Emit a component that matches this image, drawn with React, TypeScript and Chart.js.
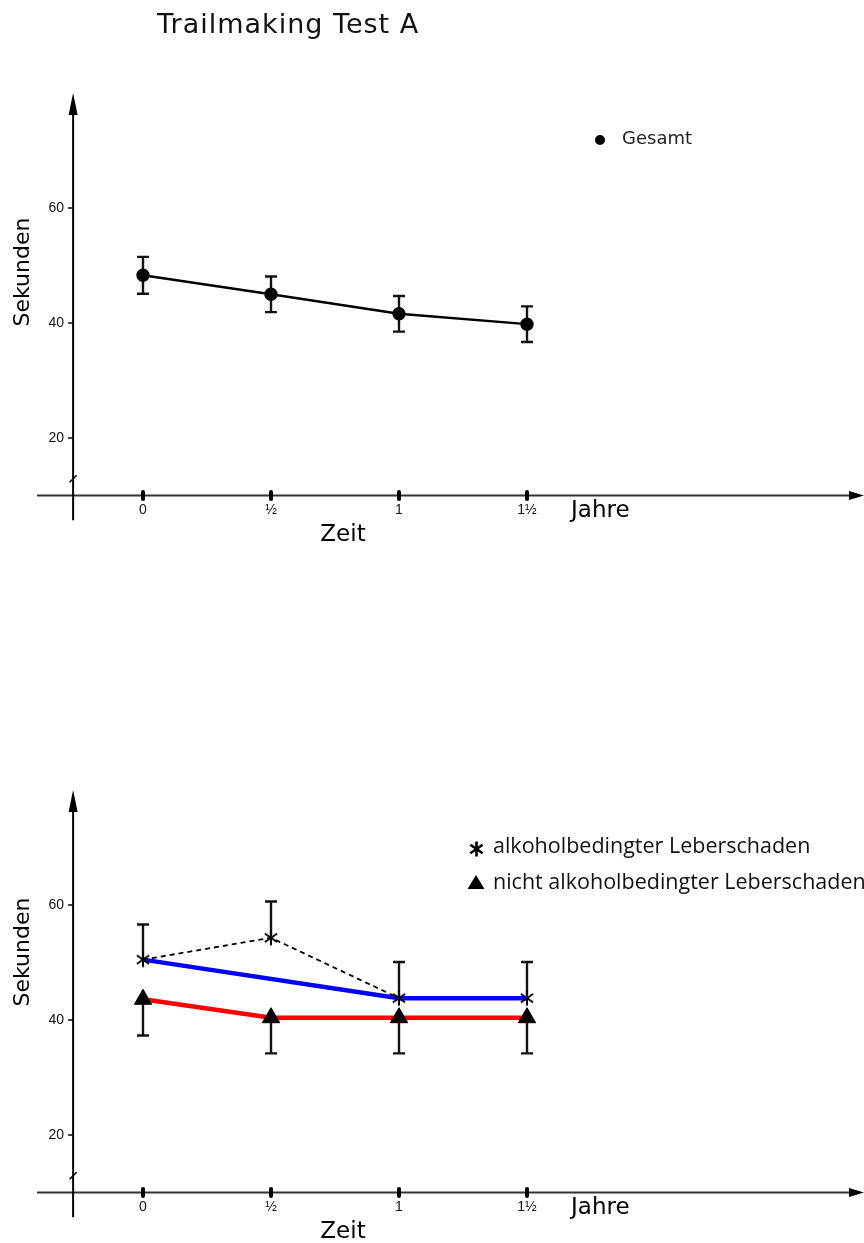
import React, { useEffect, useRef } from 'react';
import { Chart, registerables } from 'chart.js';

Chart.register(...registerables);

// ---------------- data ----------------
const timeValues = [0, 0.5, 1, 1.5];
const timeLabels = ['0', '½', '1', '1½'];
const yTickValues = [20, 40, 60];

const gesamtMean = [48.3, 45.0, 41.6, 39.8];
const gesamtErr = [3.2, 3.1, 3.1, 3.1];

const alkMean = [50.5, 54.3, 43.8, 43.8];
const alkErrUp = [6.1, 6.3, 6.3, 6.3];

const nichtMean = [43.6, 40.4, 40.4, 40.4];
const nichtErrDown = [6.3, 6.2, 6.2, 6.2];

const trendTimes = [0, 1, 1.5];
const alkTrend = [50.5, 43.8, 43.8];

const titleText = 'Trailmaking Test A';
const yAxisTitle = 'Sekunden';
const xAxisTitle = 'Zeit';
const xUnit = 'Jahre';
const legendTop = ['Gesamt'];
const legendBottom = ['alkoholbedingter Leberschaden', 'nicht alkoholbedingter Leberschaden'];

// axis extents (data units)
const AXIS_Y_VALUE = 10; // where x-axis crosses
const AXIS_BREAK_VALUE = 13;
const AXIS_Y_TOP = 80;
const AXIS_Y_BOTTOM = 5.7;
const AXIS_X_VALUE = -0.273; // where y-axis crosses
const AXIS_X_LEFT = -0.414;

function drawAsterisk(ctx: CanvasRenderingContext2D, cx: number, cy: number, r: number, lw: number) {
  ctx.save();
  ctx.strokeStyle = '#000';
  ctx.lineWidth = lw;
  ctx.lineCap = 'butt';
  const angles = [90, 35, 145];
  ctx.beginPath();
  for (const a of angles) {
    const rad = (a * Math.PI) / 180;
    ctx.moveTo(cx - Math.cos(rad) * r, cy - Math.sin(rad) * r);
    ctx.lineTo(cx + Math.cos(rad) * r, cy + Math.sin(rad) * r);
  }
  ctx.stroke();
  ctx.restore();
}

function makeAsteriskImage(size: number, r: number, lw: number) {
  const c = document.createElement('canvas');
  c.width = size;
  c.height = size;
  const ctx = c.getContext('2d')!;
  drawAsterisk(ctx, size / 2, size / 2, r, lw);
  return c;
}

type ErrBar = { xs: number[]; ys: number[]; up: number[] | null; down: number[] | null };

type PluginCfg = {
  id: string;
  title?: string;
  ylabelCenterY: number;
  errorBars: ErrBar[];
  legend: (ctx: CanvasRenderingContext2D) => void;
};

function makePlugin(cfg: PluginCfg) {
  return {
    id: cfg.id,
    beforeDatasetsDraw(chart: any) {
      const ctx: CanvasRenderingContext2D = chart.ctx;
      const sx = chart.scales.x;
      const sy = chart.scales.y;
      ctx.save();
      ctx.strokeStyle = '#111';
      ctx.lineWidth = 2.4;
      ctx.lineCap = 'butt';
      const cap = 6;
      for (const eb of cfg.errorBars) {
        eb.xs.forEach((xv, i) => {
          const x = sx.getPixelForValue(xv);
          const yv = eb.ys[i];
          const top = eb.up ? yv + eb.up[i] : yv;
          const bot = eb.down ? yv - eb.down[i] : yv;
          const yt = sy.getPixelForValue(top);
          const yb = sy.getPixelForValue(bot);
          ctx.beginPath();
          ctx.moveTo(x, yt);
          ctx.lineTo(x, yb);
          if (eb.up) {
            ctx.moveTo(x - cap, yt);
            ctx.lineTo(x + cap, yt);
          }
          if (eb.down) {
            ctx.moveTo(x - cap, yb);
            ctx.lineTo(x + cap, yb);
          }
          ctx.stroke();
        });
      }
      ctx.restore();
    },
    afterDraw(chart: any) {
      const ctx: CanvasRenderingContext2D = chart.ctx;
      const sx = chart.scales.x;
      const sy = chart.scales.y;
      const W = chart.width;
      const x0 = sx.getPixelForValue(AXIS_X_VALUE);
      const y0 = sy.getPixelForValue(AXIS_Y_VALUE);
      ctx.save();

      // x axis
      ctx.strokeStyle = '#333';
      ctx.lineWidth = 2;
      ctx.beginPath();
      ctx.moveTo(sx.getPixelForValue(AXIS_X_LEFT), y0);
      ctx.lineTo(W - 8, y0);
      ctx.stroke();
      ctx.fillStyle = '#000';
      ctx.beginPath();
      ctx.moveTo(W, y0);
      ctx.lineTo(W - 15, y0 - 4.5);
      ctx.lineTo(W - 15, y0 + 4.5);
      ctx.closePath();
      ctx.fill();

      // y axis
      const yTop = sy.getPixelForValue(AXIS_Y_TOP);
      ctx.strokeStyle = '#000';
      ctx.lineWidth = 2;
      ctx.beginPath();
      ctx.moveTo(x0, sy.getPixelForValue(AXIS_Y_BOTTOM));
      ctx.lineTo(x0, yTop + 10);
      ctx.stroke();
      ctx.beginPath();
      ctx.moveTo(x0, yTop);
      ctx.lineTo(x0 - 4.5, yTop + 22);
      ctx.lineTo(x0 + 4.5, yTop + 22);
      ctx.closePath();
      ctx.fill();

      // axis break
      const yb = sy.getPixelForValue(AXIS_BREAK_VALUE);
      ctx.lineWidth = 1.6;
      ctx.beginPath();
      ctx.moveTo(x0 - 3.5, yb + 4);
      ctx.lineTo(x0 + 3.5, yb - 3);
      ctx.stroke();

      // y ticks
      ctx.font = '14px "Liberation Sans", sans-serif';
      ctx.textAlign = 'right';
      ctx.textBaseline = 'middle';
      ctx.lineWidth = 1.5;
      ctx.fillStyle = '#111';
      for (const v of yTickValues) {
        const y = sy.getPixelForValue(v);
        ctx.beginPath();
        ctx.moveTo(x0 - 5, y);
        ctx.lineTo(x0, y);
        ctx.stroke();
        ctx.fillText(String(v), x0 - 9, y);
      }

      // x ticks
      ctx.textAlign = 'center';
      ctx.textBaseline = 'middle';
      timeValues.forEach((t, i) => {
        const x = sx.getPixelForValue(t);
        ctx.lineWidth = 4;
        ctx.lineCap = 'round';
        ctx.beginPath();
        ctx.moveTo(x, y0 - 3.5);
        ctx.lineTo(x, y0 + 3.5);
        ctx.stroke();
        ctx.fillText(timeLabels[i], x, y0 + 15);
      });

      // unit + axis titles
      ctx.fillStyle = '#000';
      ctx.font = '23px "DejaVu Sans", sans-serif';
      ctx.textAlign = 'left';
      ctx.fillText(xUnit, 571, y0 + 16);
      ctx.textAlign = 'center';
      ctx.fillText(xAxisTitle, 343, y0 + 40);

      ctx.save();
      ctx.translate(23, cfg.ylabelCenterY);
      ctx.rotate(-Math.PI / 2);
      ctx.font = '22px "DejaVu Sans", sans-serif';
      ctx.fillText(yAxisTitle, 0, 0);
      ctx.restore();

      if (cfg.title) {
        ctx.save();
        ctx.font = '27px "DejaVu Sans", sans-serif';
        (ctx as any).letterSpacing = '1px';
        ctx.textAlign = 'left';
        ctx.fillStyle = '#111';
        ctx.fillText(cfg.title, 157, 26);
        ctx.restore();
      }

      cfg.legend(ctx);
      ctx.restore();
    },
  };
}

function buildTop(canvas: HTMLCanvasElement) {
  const plugin = makePlugin({
    id: 'topAxes',
    title: titleText,
    ylabelCenterY: 272,
    errorBars: [{ xs: timeValues, ys: gesamtMean, up: gesamtErr, down: gesamtErr }],
    legend: (ctx) => {
      ctx.fillStyle = '#000';
      ctx.beginPath();
      ctx.arc(600, 140, 5, 0, Math.PI * 2);
      ctx.fill();
      ctx.font = '18px "DejaVu Sans", sans-serif';
      ctx.textAlign = 'left';
      ctx.textBaseline = 'middle';
      ctx.fillStyle = '#222';
      ctx.fillText(legendTop[0], 622, 139);
    },
  });
  return new Chart(canvas, {
    type: 'scatter',
    data: {
      datasets: [
        {
          label: legendTop[0],
          data: timeValues.map((t, i) => ({ x: t, y: gesamtMean[i] })),
          showLine: true,
          borderColor: '#000',
          borderWidth: 2.4,
          pointRadius: 5.5,
          pointBackgroundColor: '#000',
          pointBorderColor: '#000',
          clip: false,
        } as any,
      ],
    },
    options: baseOptions(259),
    plugins: [plugin],
  });
}

function buildBottom(canvas: HTMLCanvasElement) {
  const star = makeAsteriskImage(20, 7.5, 2);
  const plugin = makePlugin({
    id: 'botAxes',
    ylabelCenterY: 255,
    errorBars: [
      { xs: timeValues, ys: alkMean, up: alkErrUp, down: null },
      { xs: timeValues, ys: nichtMean, up: null, down: nichtErrDown },
    ],
    legend: (ctx) => {
      drawAsterisk(ctx, 476.5, 152, 7.5, 2.6);
      ctx.fillStyle = '#000';
      ctx.beginPath();
      ctx.moveTo(476, 178);
      ctx.lineTo(484.5, 192);
      ctx.lineTo(467.5, 192);
      ctx.closePath();
      ctx.fill();
      ctx.font = '21.5px "Open Sans", sans-serif';
      ctx.textAlign = 'left';
      ctx.textBaseline = 'middle';
      ctx.fillStyle = '#111';
      ctx.fillText(legendBottom[0], 493, 150);
      ctx.fillText(legendBottom[1], 493, 186);
    },
  });
  return new Chart(canvas, {
    type: 'scatter',
    data: {
      datasets: [
        {
          label: legendBottom[0],
          data: timeValues.map((t, i) => ({ x: t, y: alkMean[i] })),
          showLine: true,
          borderColor: '#000',
          borderWidth: 1.8,
          borderDash: [5, 4],
          segment: {
            borderColor: (c: any) => (c.p1DataIndex === timeValues.length - 1 ? 'rgba(0,0,0,0)' : '#000'),
          },
          pointStyle: star,
          pointRadius: 10,
          clip: false,
        } as any,
        {
          label: legendBottom[1],
          data: timeValues.map((t, i) => ({ x: t, y: nichtMean[i] })),
          showLine: true,
          borderColor: '#ff0000',
          borderWidth: 4.5,
          pointStyle: 'triangle',
          pointRadius: 10,
          pointBackgroundColor: '#000',
          pointBorderColor: '#000',
          pointBorderWidth: 1,
          clip: false,
        } as any,
        {
          label: 'trend',
          data: trendTimes.map((t, i) => ({ x: t, y: alkTrend[i] })),
          showLine: true,
          borderColor: '#0000ff',
          borderWidth: 4.5,
          pointRadius: 0,
          clip: false,
        } as any,
      ],
    },
    options: baseOptions(108),
    plugins: [plugin],
  });
}

function baseOptions(padBottom: number): any {
  return {
    responsive: false,
    animation: false,
    events: [],
    layout: { autoPadding: false, padding: { left: 143, right: 337, top: 208, bottom: padBottom } },
    plugins: { legend: { display: false }, tooltip: { enabled: false }, title: { display: false } },
    elements: { line: { tension: 0 } },
    scales: {
      x: { type: 'linear', min: 0, max: 1.5, display: false },
      y: { type: 'linear', min: 20, max: 60, display: false },
    },
  };
}

export default function App() {
  const topRef = useRef<HTMLCanvasElement>(null);
  const botRef = useRef<HTMLCanvasElement>(null);
  useEffect(() => {
    const a = buildTop(topRef.current!);
    const b = buildBottom(botRef.current!);
    return () => {
      a.destroy();
      b.destroy();
    };
  }, []);
  return (
    <div style={{ position: 'absolute', left: 0, top: 0, width: 864, height: 1243, background: '#fff', overflow: 'hidden' }}>
      <canvas ref={topRef} width={864} height={697} style={{ position: 'absolute', left: 0, top: 0, width: 864, height: 697 }} />
      <canvas ref={botRef} width={864} height={546} style={{ position: 'absolute', left: 0, top: 697, width: 864, height: 546 }} />
    </div>
  );
}
